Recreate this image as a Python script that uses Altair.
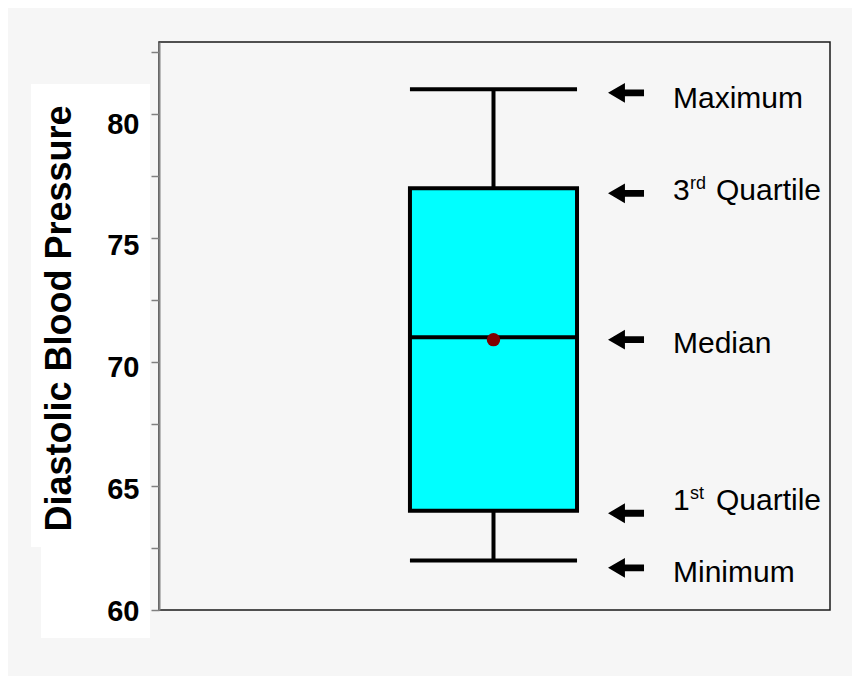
import altair as alt
import pandas as pd

# ---- data ----
stat_min = 62
stat_q1 = 64
stat_median = 71
stat_q3 = 77
stat_max = 81
stat_mean = 70.9

arrow_values = [80.85, 76.8, 70.9, 63.9, 61.7]
label_values = [80.24, 76.53, 70.38, 64.03, 61.14]
label_main = ["Maximum", "3", "Median", "1", "Minimum"]
label_sup = ["", "rd", "", "st", ""]
label_rest = ["", "Quartile", "", "Quartile", ""]
y_ticks = [60, 62.5, 65, 67.5, 70, 72.5, 75, 77.5, 80, 82.5]

FONT = "Liberation Sans"

box_df = pd.DataFrame({
    "min": [stat_min], "q1": [stat_q1], "median": [stat_median],
    "q3": [stat_q3], "max": [stat_max], "mean": [stat_mean],
})
ann_df = pd.DataFrame({
    "arrow": arrow_values, "label": label_values,
    "main": label_main, "sup": label_sup, "rest": label_rest,
})
one = pd.DataFrame({"a": [0]})

yscale = alt.Scale(domain=[60, 82.9], nice=False, zero=False)
yaxis = alt.Axis(
    values=y_ticks,
    labelExpr="datum.value % 5 == 0 ? datum.label : ''",
    title="Diastolic Blood Pressure",
    titleFontSize=36, titleFontWeight="bold", titleFont=FONT, titleColor="black",
    titleAngle=270, titleX=-100, titleY=276, titleAlign="center", titleBaseline="middle",
    labelFontSize=29, labelFontWeight="bold", labelFont=FONT, labelColor="black",
    labelPadding=12,
    labelOffset={"condition": [
        {"test": "datum.value == 80", "value": 11},
        {"test": "datum.value == 75", "value": 8},
        {"test": "datum.value == 70", "value": 6},
        {"test": "datum.value == 65", "value": 4},
    ], "value": 1},
    tickSize=8, tickColor="#808080", tickWidth=1.5,
    domainColor="#808080", domainWidth=2,
    grid=False, zindex=1,
)
xscale = alt.Scale(domain=[0, 10], nice=False, zero=False)


def Y(field):
    return alt.Y(f"{field}:Q", scale=yscale, axis=yaxis)


def XD(v):
    return alt.XDatum(v, type="quantitative", scale=xscale, axis=None)


BOX_L, BOX_R, BOX_C = 3.74, 6.23, 4.985
ARROW_X, LABEL_X = 6.96, 7.66

white1 = alt.Chart(one).mark_rect(color="white").encode(
    x=alt.value(-128), x2=alt.value(-9), y=alt.value(42), y2=alt.value(505))
white2 = alt.Chart(one).mark_rect(color="white").encode(
    x=alt.value(-118), x2=alt.value(-9), y=alt.value(505), y2=alt.value(596))

base = alt.Chart(box_df)
whisk_lo = base.mark_rule(color="black", strokeWidth=4).encode(
    x=XD(BOX_C), y=Y("min"), y2="q1")
whisk_hi = base.mark_rule(color="black", strokeWidth=4).encode(
    x=XD(BOX_C), y=Y("q3"), y2="max")
cap_lo = base.mark_rule(color="black", strokeWidth=4).encode(
    x=XD(BOX_L), x2=alt.X2Datum(BOX_R), y=Y("min"))
cap_hi = base.mark_rule(color="black", strokeWidth=4).encode(
    x=XD(BOX_L), x2=alt.X2Datum(BOX_R), y=Y("max"))
box = base.mark_rect(fill="#00FFFF", stroke="black", strokeWidth=4).encode(
    x=XD(BOX_L), x2=alt.X2Datum(BOX_R), y=Y("q1"), y2="q3")
med = base.mark_rule(color="black", strokeWidth=4).encode(
    x=XD(BOX_L), x2=alt.X2Datum(BOX_R), y=Y("median"))
mean = base.mark_point(shape="circle", filled=True, color="#800000", opacity=1, size=180).encode(
    x=XD(BOX_C), y=Y("mean"))

arrow_path = "M -1 0 L -0.06 -0.55 L -0.06 -0.19 L 1 -0.19 L 1 0.19 L -0.06 0.19 L -0.06 0.55 Z"
ann = alt.Chart(ann_df)
arrows = ann.mark_point(shape=arrow_path, filled=True, color="black", opacity=1,
                        size=1296, strokeWidth=0).encode(x=XD(ARROW_X), y=Y("arrow"))
t_main = ann.mark_text(align="left", baseline="alphabetic", fontSize=30, font=FONT,
                       color="black").encode(x=XD(LABEL_X), y=Y("label"), text="main:N")
t_sup = ann.mark_text(align="left", baseline="alphabetic", fontSize=18, font=FONT,
                      color="black", dx=17, dy=-11).encode(x=XD(LABEL_X), y=Y("label"), text="sup:N")
t_rest = ann.mark_text(align="left", baseline="alphabetic", fontSize=30, font=FONT,
                       color="black", dx=43).encode(x=XD(LABEL_X), y=Y("label"), text="rest:N")

chart = alt.layer(
    white1, white2, whisk_lo, whisk_hi, cap_lo, cap_hi, box, med, mean,
    arrows, t_main, t_sup, t_rest,
).properties(
    width=671, height=568,
    autosize=alt.AutoSizeParams(type="none"),
    padding={"left": 151, "top": 34, "right": 22, "bottom": 66},
    background="#f6f6f6",
).configure_view(stroke="#1a1a1a", strokeWidth=1.5)

chart.save("out.html", embed_options={"renderer": "svg", "actions": False})
